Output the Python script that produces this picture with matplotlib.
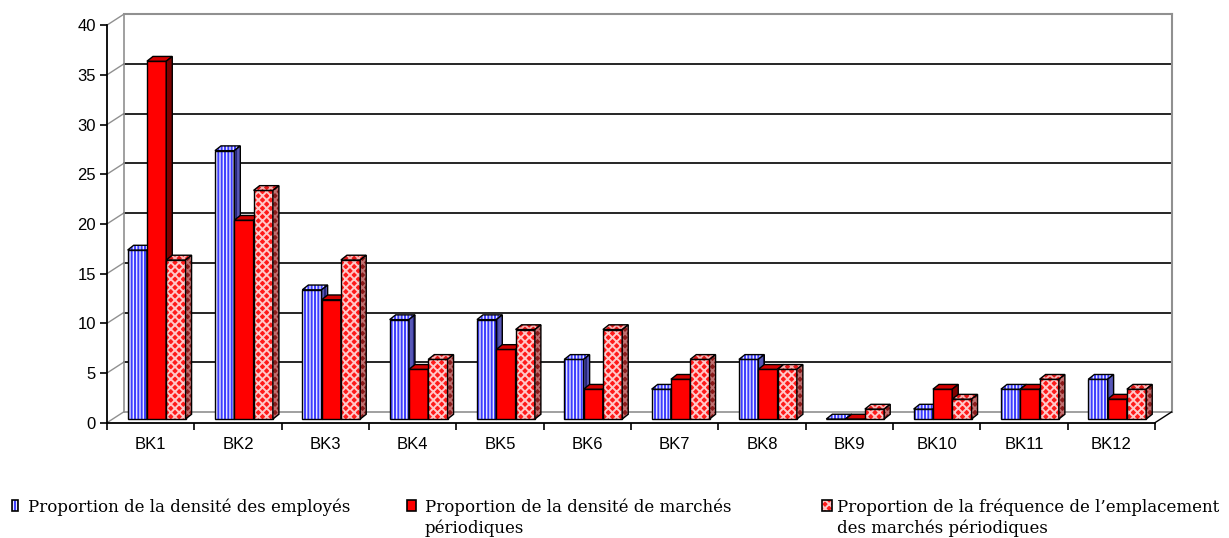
# 3D-style grouped columns (BK1..BK12) with legend below
import matplotlib.pyplot as plt
from matplotlib.patches import Polygon, Rectangle

cats = ["BK1", "BK2", "BK3", "BK4", "BK5", "BK6", "BK7", "BK8", "BK9", "BK10", "BK11", "BK12"]
employes = [17, 27, 13, 10, 10, 6, 3, 6, 0, 1, 3, 4]
densite = [36, 20, 12, 5, 7, 3, 4, 5, 0, 3, 3, 2]
frequence = [16, 23, 16, 6, 9, 9, 6, 5, 1, 2, 4, 3]
labels = ["Proportion de la densité des employés",
          "Proportion de la densité de marchés\npériodiques",
          "Proportion de la fréquence de l’emplacement\ndes marchés périodiques"]
yticks = list(range(0, 45, 5))

plt.rcParams['hatch.linewidth'] = 1.4

W, H = 1229, 538
fig = plt.figure(figsize=(W / 100, H / 100), dpi=100)
ax = fig.add_axes([107 / W, (H - 422.7) / H, 1069.8 / W, 409.5 / H])
n = len(cats)
ax.set_xlim(0, 12.25)
ax.set_ylim(0, 41.2)

# depth of the walls and of the bars, in data units
wdx, wdy = 0.19, 1.08
bx, by = 0.068, 0.37
ddx, ddy = 0.069, 0.48
bw = 0.221

# walls and gridlines
for v in yticks:
    ax.plot([0, wdx], [v, v + wdy], color='#909090', lw=1, zorder=1, clip_on=False)
    if 0 < v < 40:
        ax.plot([wdx, n + wdx], [v + wdy] * 2, color='black', lw=1.2, zorder=1)
ax.plot([wdx, n + wdx], [40 + wdy] * 2, color='#909090', lw=1.5, zorder=1, clip_on=False)
ax.plot([wdx, n + wdx], [wdy] * 2, color='#909090', lw=1.2, zorder=1)
ax.plot([wdx, wdx], [wdy, 40 + wdy], color='#909090', lw=1.2, zorder=1, clip_on=False)
ax.plot([n + wdx] * 2, [wdy, 40 + wdy], color='#909090', lw=1.5, zorder=1, clip_on=False)
ax.plot([n, n + wdx], [0, wdy], color='black', lw=1, zorder=1, clip_on=False)


def face(xy, fc, hatch, hc, z):
    ax.add_patch(Polygon(xy, closed=True, facecolor=fc, hatch=hatch, edgecolor=hc, lw=0, zorder=z))
    ax.add_patch(Polygon(xy, closed=True, fill=False, edgecolor='black', lw=1, zorder=z))


styles = [
    # front, top, side : (facecolor, hatch, hatchcolor)
    [('#e8e8ff', '|||||', '#3c3cff'), ('#e8e8ff', '|||||', '#3c3cff'), ('#5858b8', '|||', '#26267a')],
    [('#ff0000', None, '#ff0000'), ('#d40000', None, '#d40000'), ('#800000', None, '#800000')],
    [('#ff1a1a', 'xxxx', '#ffc8c8'), ('#e01818', 'xxxx', '#ffb0b0'), ('#8a1a1a', 'xxxx', '#c07070')],
]

for j, vals in enumerate([employes, densite, frequence]):
    front, top, side = styles[j]
    z = 3 + j
    for i, v in enumerate(vals):
        x0 = i + 0.5 + bx - 1.5 * bw + j * bw
        y0 = by
        y1 = by + v
        face([(x0, y0), (x0 + bw, y0), (x0 + bw, y1), (x0, y1)], *front, z)
        face([(x0, y1), (x0 + bw, y1), (x0 + bw + ddx, y1 + ddy), (x0 + ddx, y1 + ddy)], *top, z)
        face([(x0 + bw, y0), (x0 + bw + ddx, y0 + ddy), (x0 + bw + ddx, y1 + ddy), (x0 + bw, y1)], *side, z)

# axes
for s in ['top', 'right']:
    ax.spines[s].set_visible(False)
ax.spines['left'].set_bounds(0, 40)
ax.spines['bottom'].set_bounds(0, n)
ax.spines['left'].set_linewidth(1.3)
ax.spines['bottom'].set_linewidth(1.3)
ax.spines['left'].set_zorder(2)
ax.set_yticks(yticks)
ax.set_xticks(range(n + 1))
ax.set_xticklabels([])
ax.set_xticks([i + 0.5 for i in range(n)], minor=True)
ax.set_xticklabels(cats, minor=True)
ax.tick_params(axis='both', which='major', length=5, width=1.2, direction='out')
ax.tick_params(axis='y', pad=3)
ax.tick_params(axis='x', which='minor', length=0, pad=10)
for t in ax.get_yticklabels() + ax.get_xticklabels(minor=True):
    t.set_fontfamily('Liberation Sans')
    t.set_fontsize(12)

# legend drawn below the chart, one text per line
sw_x = [12, 407, 822]
sw_w = [6, 9, 10]
tx_x = [28, 425, 837]
for k in range(3):
    fc, hatch, hc = styles[k][0]
    r = [sw_x[k] / W, (H - 511) / H, sw_w[k] / W, 11 / H]
    fig.add_artist(Rectangle(r[:2], r[2], r[3], transform=fig.transFigure,
                             facecolor=fc, hatch=hatch, edgecolor=hc, lw=0))
    fig.add_artist(Rectangle(r[:2], r[2], r[3], transform=fig.transFigure,
                             fill=False, edgecolor='black', lw=1.2))
    for m, line in enumerate(labels[k].split("\n")):
        fig.text(tx_x[k] / W, (H - 511.7 - 21 * m) / H, line, ha='left', va='baseline',
                 fontsize=12, family='DejaVu Serif')

fig.savefig("out.png", dpi=100)
